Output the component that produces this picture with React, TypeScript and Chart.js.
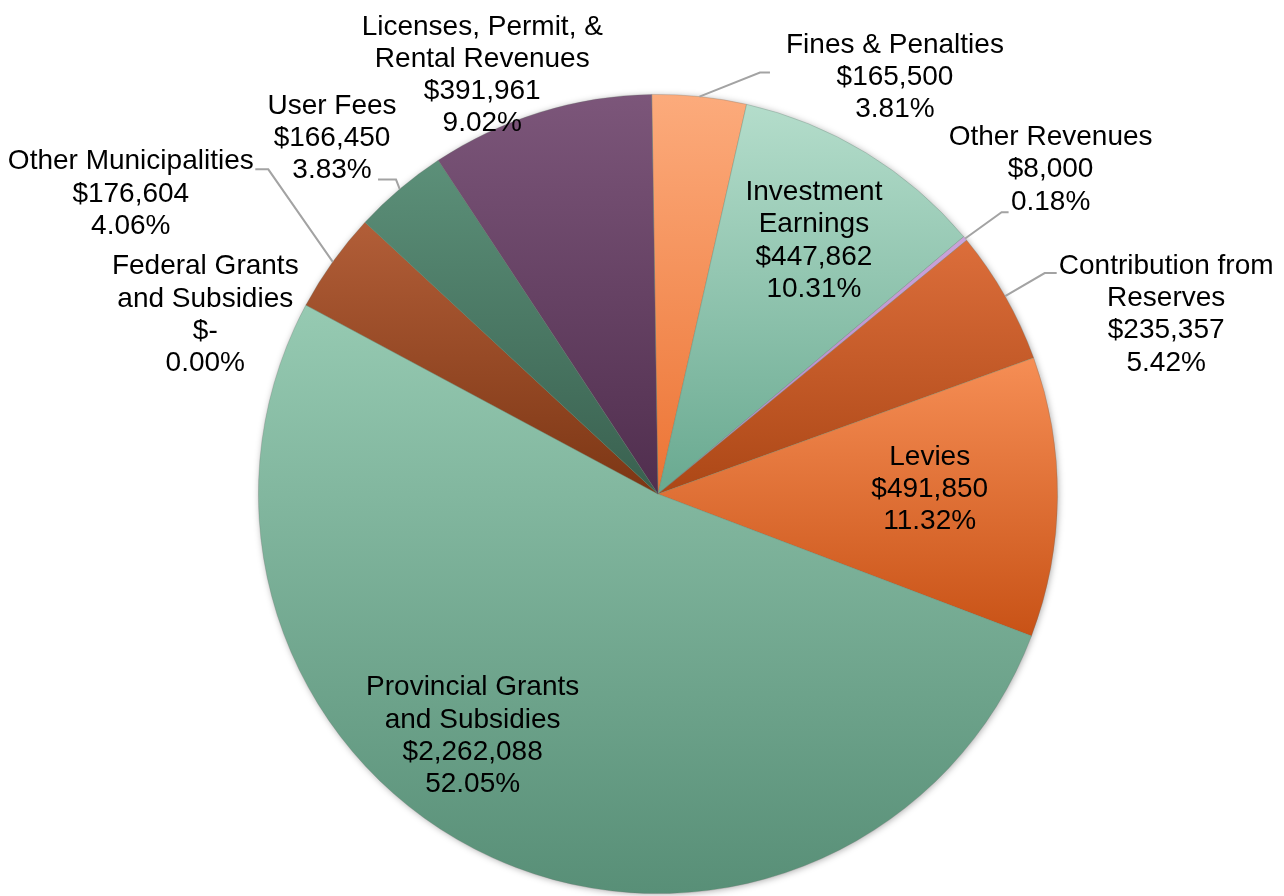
import React, { useEffect, useRef } from "react";
import { Chart, registerables } from "chart.js";

Chart.register(...registerables);

// ---- data (clockwise from 12 o'clock) ----
const categories: string[][] = [
  ["Fines & Penalties"],
  ["Investment", "Earnings"],
  ["Other Revenues"],
  ["Contribution from", "Reserves"],
  ["Levies"],
  ["Provincial Grants", "and Subsidies"],
  ["Federal Grants", "and Subsidies"],
  ["Other Municipalities"],
  ["User Fees"],
  ["Licenses, Permit, &", "Rental Revenues"],
];
const amounts: number[] = [165500, 447862, 8000, 235357, 491850, 2262088, 0, 176604, 166450, 391961];

// ---- style ----
const colorTop: string[] = ["#fcab7c", "#b4ddcb", "#cba3da", "#dc6e3b", "#f68e55", "#96cab2", "#96cab2", "#b25e38", "#5c9079", "#7c567a"];
const colorBottom: string[] = ["#ec7434", "#69a990", "#b184c4", "#ac4716", "#c85216", "#588f77", "#588f77", "#7c3614", "#39604f", "#502e4e"];

// label placement: anchor at radius fraction rf on the slice's mid angle, then offset in px;
// leader points are relative to label centre
type Placement = { rf: number; dx: number; dy: number; leader?: number[][] };
const labelPlacement: Placement[] = [
  { rf: 1, dx: 195.5, dy: -19, leader: [[-135, -5], [-125, -5]] },
  { rf: 0.745, dx: 1, dy: 1 },
  { rf: 1, dx: 85.4, dy: -68.8, leader: [[-49, 42.5], [-42, 42.5]] },
  { rf: 1, dx: 161, dy: 18.4, leader: [[-121.5, -41.5], [-109.5, -41.5]] },
  { rf: 0.68, dx: 0, dy: -7 },
  { rf: 0.762, dx: -59, dy: -35 },
  { rf: 1, dx: -100.6, dy: 9.8 },
  { rf: 1, dx: -202, dy: -68, leader: [[137.5, -24.5], [124.5, -24.5]] },
  { rf: 1, dx: -67.7, dy: -51, leader: [[64, 41.5], [46, 41.5]] },
  { rf: 1, dx: -58, dy: -37 },
];

const ROTATION = -0.9;
const FONT = '28px "Liberation Sans", Arial, sans-serif';
const LINE_H = 32.2;

const total = amounts.reduce((a, b) => a + b, 0);
const fmtMoney = (v: number) => (v === 0 ? "$-" : "$" + v.toLocaleString("en-US"));
const fmtPct = (v: number) => ((v / total) * 100).toFixed(2) + "%";

function sliceGradient(context: any) {
  const chart = context.chart;
  const i = context.dataIndex;
  const area = chart.chartArea;
  if (!area || i === undefined) return colorTop[i ?? 0];
  const cx = (area.left + area.right) / 2;
  const cy = (area.top + area.bottom) / 2;
  const r = Math.min(area.right - area.left, area.bottom - area.top) / 2;
  let cum = 0;
  for (let k = 0; k < i; k++) cum += amounts[k];
  const rot = (ROTATION * Math.PI) / 180 - Math.PI / 2;
  const a0 = rot + (2 * Math.PI * cum) / total;
  const a1 = rot + (2 * Math.PI * (cum + amounts[i])) / total;
  const ys = [cy, cy + r * Math.sin(a0), cy + r * Math.sin(a1)];
  for (const ext of [-Math.PI / 2, Math.PI / 2, (3 * Math.PI) / 2, (5 * Math.PI) / 2, -(3 * Math.PI) / 2]) {
    if (ext >= a0 && ext <= a1) ys.push(cy + r * Math.sin(ext));
  }
  void cx;
  const y0 = Math.min(...ys);
  let y1 = Math.max(...ys);
  if (y1 - y0 < 1) y1 = y0 + 1;
  const g = chart.ctx.createLinearGradient(0, y0, 0, y1);
  g.addColorStop(0, colorTop[i]);
  g.addColorStop(1, colorBottom[i]);
  return g;
}

const shadowPlugin = {
  id: "pieShadow",
  beforeDatasetsDraw(chart: any) {
    const meta = chart.getDatasetMeta(0);
    const arc = meta.data[0];
    if (!arc) return;
    const ctx = chart.ctx;
    ctx.save();
    ctx.shadowColor = "rgba(0,0,0,0.35)";
    ctx.shadowBlur = 7;
    ctx.shadowOffsetX = 1;
    ctx.shadowOffsetY = 1;
    ctx.fillStyle = "#8fa";
    ctx.beginPath();
    ctx.arc(arc.x, arc.y, arc.outerRadius - 0.5, 0, Math.PI * 2);
    ctx.fill();
    ctx.restore();
  },
};

const labelPlugin = {
  id: "sliceLabels",
  afterDatasetsDraw(chart: any) {
    const ctx = chart.ctx;
    const meta = chart.getDatasetMeta(0);
    ctx.save();
    ctx.font = FONT;
    ctx.fillStyle = "#000000";
    ctx.textAlign = "center";
    ctx.textBaseline = "middle";
    meta.data.forEach((arc: any, i: number) => {
      const p = labelPlacement[i];
      const mid = (arc.startAngle + arc.endAngle) / 2;
      const ax = arc.x + p.rf * arc.outerRadius * Math.cos(mid);
      const ay = arc.y + p.rf * arc.outerRadius * Math.sin(mid);
      const lx = ax + p.dx;
      const ly = ay + p.dy;
      if (p.leader) {
        ctx.save();
        ctx.strokeStyle = "#a3a3a3";
        ctx.lineWidth = 2;
        ctx.beginPath();
        ctx.moveTo(ax, ay);
        p.leader.forEach((pt) => ctx.lineTo(lx + pt[0], ly + pt[1]));
        ctx.stroke();
        ctx.restore();
      }
      const lines = [...categories[i], fmtMoney(amounts[i]), fmtPct(amounts[i])];
      lines.forEach((t, k) => {
        ctx.fillText(t, lx, ly + (k - (lines.length - 1) / 2) * LINE_H);
      });
    });
    ctx.restore();
  },
};

export default function App() {
  const ref = useRef<HTMLCanvasElement | null>(null);
  useEffect(() => {
    if (!ref.current) return;
    const chart = new Chart(ref.current, {
      type: "pie",
      data: {
        labels: categories.map((c) => c.join(" ")),
        datasets: [
          {
            data: amounts,
            backgroundColor: sliceGradient as any,
            borderColor: "rgba(110,110,110,0.35)",
            borderWidth: 0.8,
          },
        ],
      },
      options: {
        responsive: false,
        animation: false,
        devicePixelRatio: 1,
        rotation: ROTATION,
        layout: { padding: { left: 258, right: 226, top: 94, bottom: 2 } },
        plugins: {
          legend: { display: false },
          tooltip: { enabled: false },
        },
      },
      plugins: [shadowPlugin, labelPlugin],
    });
    return () => chart.destroy();
  }, []);
  return (
    <div style={{ position: "absolute", left: 0, top: 0, width: 1284, height: 896, background: "#fff" }}>
      <canvas ref={ref} width={1284} height={896} style={{ width: 1284, height: 896, display: "block" }} />
    </div>
  );
}
